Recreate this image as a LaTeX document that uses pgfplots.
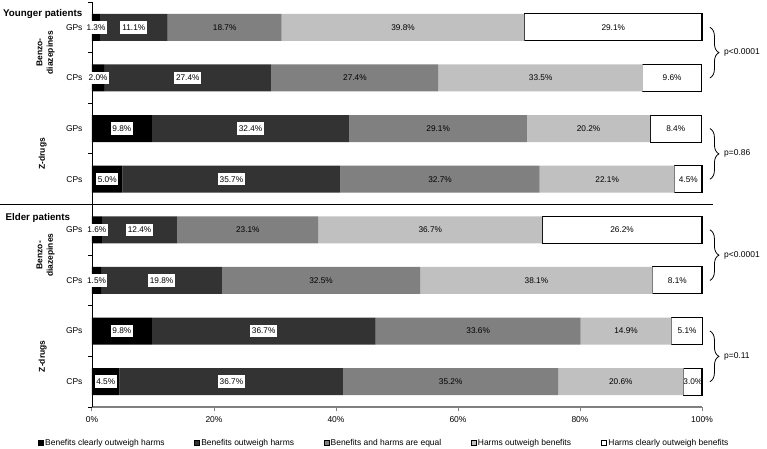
\documentclass[border=0pt]{standalone}
\usepackage{fontspec}
\setmainfont{Liberation Sans}
\usepackage{pgfplots}
\usepackage{pgfplotstable}
\pgfplotsset{compat=1.18}
\usetikzlibrary{decorations.pathreplacing}
\definecolor{cB}{HTML}{333333}
\definecolor{cC}{HTML}{808080}
\definecolor{cD}{HTML}{C0C0C0}

% y: 7 = top bar (younger, benzo, GPs) ... 0 = bottom bar (elder, Z-drugs, CPs)
\pgfplotstableread{
y  a    b    c    d    e
7  1.3  11.1 18.7 39.8 29.1
6  2.0  27.4 27.4 33.5 9.6
5  9.8  32.4 29.1 20.2 8.4
4  5.0  35.7 32.7 22.1 4.5
3  1.6  12.4 23.1 36.7 26.2
2  1.5  19.8 32.5 38.1 8.1
1  9.8  36.7 33.6 14.9 5.1
0  4.5  36.7 35.2 20.6 3.0
}\datatable

\begin{document}
\begin{tikzpicture}[font=\fontsize{8.5}{10}\selectfont]
\useasboundingbox (-92bp,-42bp) rectangle (675bp,407bp);
\begin{axis}[
  at={(0,0)}, anchor=south west,
  scale only axis, width=610bp, height=405bp,
  xbar stacked, bar width=27bp,
  xmin=0, xmax=100, ymin=-0.5, ymax=7.5,
  clip=false,
  axis x line=bottom, axis y line=left,
  axis line style={-},
  x axis line style={draw=gray, line width=1.6bp},
  y axis line style={draw=black, line width=0.9bp},
  tick align=outside,
  major tick length=4bp,
  minor tick length=4bp,
  xtick={0,20,...,100},
  xticklabel={\pgfmathprintnumber{\tick}\%},
  major x tick style={draw=gray, line width=1bp},
  xticklabel style={font=\fontsize{8.5}{10}\selectfont, yshift=-2bp},
  /pgf/number format/assume math mode=true,
  ytick={0,1,2,3,4,5,6,7},
  yticklabels={CPs,GPs,CPs,GPs,CPs,GPs,CPs,GPs},
  major y tick style={draw=none},
  minor ytick={-0.5,0.5,...,7.5},
  minor y tick style={draw=black, line width=0.8bp},
  yticklabel style={xshift=-2bp},
  point meta=explicit symbolic,
  nodes near coords={\pgfplotspointmeta\%},
  every node near coord/.append style={anchor=center, text=black,
     font=\fontsize{8.3}{10}\selectfont},
  legend columns=5,
  legend style={at={(axis cs:47.87,-0.5)}, anchor=center, yshift=-36bp,
     draw=none, fill=none, font=\fontsize{8.5}{10}\selectfont,
     /tikz/every even column/.append style={column sep=28bp},
     nodes={inner xsep=1.5bp, inner ysep=1bp}},
  legend image code/.code={\draw[#1] (0bp,-2.6bp) rectangle (5.2bp,2.6bp);},
]
\addplot[fill=black, draw=none,
  every node near coord/.append style={fill=white, inner xsep=1.5bp, inner ysep=3.3bp}]
  table[x=a, y=y, meta=a] {\datatable};
\addlegendentry{Benefits clearly outweigh harms}
\addplot[fill=cB, draw=none,
  every node near coord/.append style={fill=white, inner xsep=2bp, inner ysep=3.3bp}]
  table[x=b, y=y, meta=b] {\datatable};
\addlegendentry{Benefits outweigh harms}
\addplot[fill=cC, draw=none]
  table[x=c, y=y, meta=c] {\datatable};
\addlegendentry{Benefits and harms are equal}
\addplot[fill=cD, draw=none]
  table[x=d, y=y, meta=d] {\datatable};
\addlegendentry{Harms outweigh benefits}
\addplot[fill=white, draw=black, line width=1.1bp]
  table[x=e, y=y, meta=e] {\datatable};
\addlegendentry{Harms clearly outweigh benefits}

% separator between groups
\draw[black, line width=1bp] (axis cs:-15.08,3.5) -- (axis cs:101.8,3.5);

% section titles
\node[anchor=west, font=\bfseries\fontsize{9.8}{11}\selectfont, inner sep=0pt] at (axis cs:-14.59,7.26) {Younger patients};
\node[anchor=west, font=\bfseries\fontsize{9.8}{11}\selectfont, inner sep=0pt] at (axis cs:-14.2,3.24) {Elder patients};

% group labels
\node[rotate=90, align=center, font=\bfseries\fontsize{8.5}{10.5}\selectfont] at (axis cs:-7.6,6.5) {Benzo-\\diazepines};
\node[rotate=90, align=center, font=\bfseries\fontsize{8.5}{10.5}\selectfont] at (axis cs:-8.1,4.5) {Z-drugs};
\node[rotate=90, align=center, font=\bfseries\fontsize{8.5}{10.5}\selectfont] at (axis cs:-7.6,2.5) {Benzo-\\diazepines};
\node[rotate=90, align=center, font=\bfseries\fontsize{8.5}{10.5}\selectfont] at (axis cs:-8.1,0.5) {Z-drugs};

% braces with p-values
\draw[decorate, decoration={brace, amplitude=9bp}, line width=0.8bp] (axis cs:101.3,7) -- (axis cs:101.3,6);
\node[anchor=west, inner sep=0pt] at (axis cs:103.6,6.5) {p<0.0001};
\draw[decorate, decoration={brace, amplitude=9bp}, line width=0.8bp] (axis cs:101.3,5) -- (axis cs:101.3,4);
\node[anchor=west, inner sep=0pt] at (axis cs:103.6,4.5) {p=0.86};
\draw[decorate, decoration={brace, amplitude=9bp}, line width=0.8bp] (axis cs:101.3,3) -- (axis cs:101.3,2);
\node[anchor=west, inner sep=0pt] at (axis cs:103.6,2.5) {p<0.0001};
\draw[decorate, decoration={brace, amplitude=9bp}, line width=0.8bp] (axis cs:101.3,1) -- (axis cs:101.3,0);
\node[anchor=west, inner sep=0pt] at (axis cs:103.6,0.5) {p=0.11};
\end{axis}
\end{tikzpicture}
\end{document}
